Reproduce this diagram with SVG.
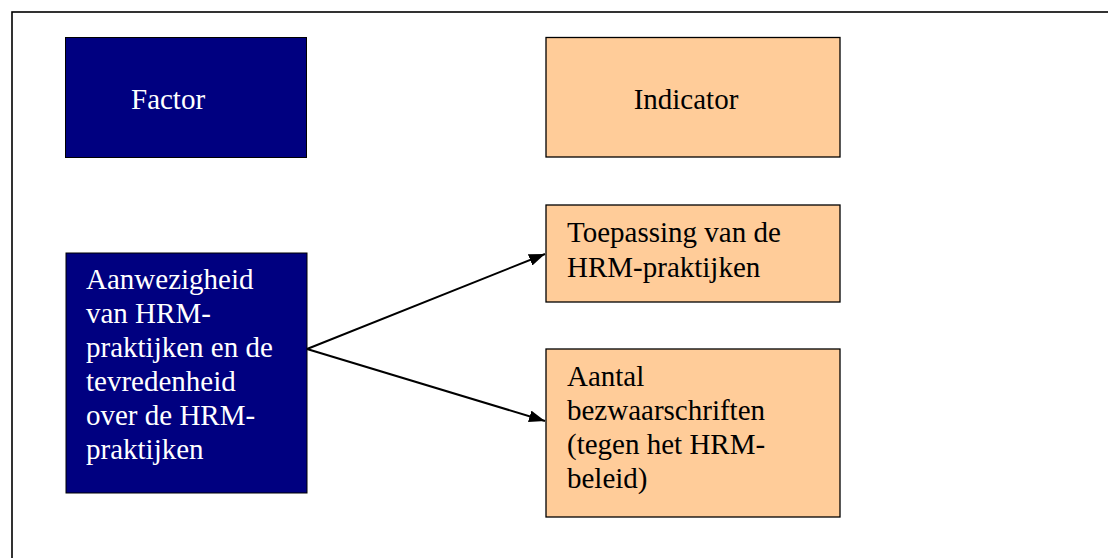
<svg xmlns="http://www.w3.org/2000/svg" width="1108" height="558" viewBox="0 0 1108 558">
  <style>
    .frame { fill: none; stroke: #000; stroke-width: 1.6; }
    .factor { fill: #000080; stroke: #000; stroke-width: 1; }
    .indicator { fill: #FFCC99; stroke: #000; stroke-width: 1.3; }
    .txt { font-family: "Liberation Serif", "Times New Roman", serif; font-size: 29px; }
    .light { fill: #fff; }
    .dark { fill: #000; }
    .link { stroke: #000; stroke-width: 2; fill: none; marker-end: url(#arrow); }
  </style>
  <defs>
    <marker id="arrow" viewBox="0 0 16 12" refX="16" refY="6" markerWidth="8" markerHeight="6" markerUnits="strokeWidth" orient="auto">
      <path d="M0,0 L16,6 L0,12 z" fill="#000"/>
    </marker>
  </defs>

  <rect width="1108" height="558" fill="#fff"/>
  <rect class="frame" x="12" y="12" width="1200" height="700"/>

  <g id="factor-header">
    <rect class="factor" x="65.5" y="37.5" width="241" height="120"/>
    <text class="txt light" x="131" y="109">Factor</text>
  </g>

  <g id="indicator-header">
    <rect class="indicator" x="546" y="37.5" width="294" height="119.5"/>
    <text class="txt dark" x="686" y="109" text-anchor="middle">Indicator</text>
  </g>

  <g id="factor-hrm">
    <rect class="factor" x="66" y="253" width="241" height="240" stroke="none"/>
    <text class="txt light">
      <tspan x="86" y="289">Aanwezigheid</tspan>
      <tspan x="86" y="323">van HRM-</tspan>
      <tspan x="86" y="357">praktijken en de</tspan>
      <tspan x="86" y="391">tevredenheid</tspan>
      <tspan x="86" y="425">over de HRM-</tspan>
      <tspan x="86" y="459">praktijken</tspan>
    </text>
  </g>

  <g id="indicator-toepassing">
    <rect class="indicator" x="546" y="205" width="294" height="97"/>
    <text class="txt dark">
      <tspan x="567" y="242">Toepassing van de</tspan>
      <tspan x="567" y="277">HRM-praktijken</tspan>
    </text>
  </g>

  <g id="indicator-bezwaarschriften">
    <rect class="indicator" x="546" y="349" width="294" height="168"/>
    <text class="txt dark">
      <tspan x="567" y="386">Aantal</tspan>
      <tspan x="567" y="420">bezwaarschriften</tspan>
      <tspan x="567" y="454">(tegen het HRM-</tspan>
      <tspan x="567" y="488">beleid)</tspan>
    </text>
  </g>

  <g id="connectors">
    <line class="link" x1="307" y1="349" x2="545" y2="254"/>
    <line class="link" x1="307" y1="349" x2="545" y2="421"/>
  </g>
</svg>
